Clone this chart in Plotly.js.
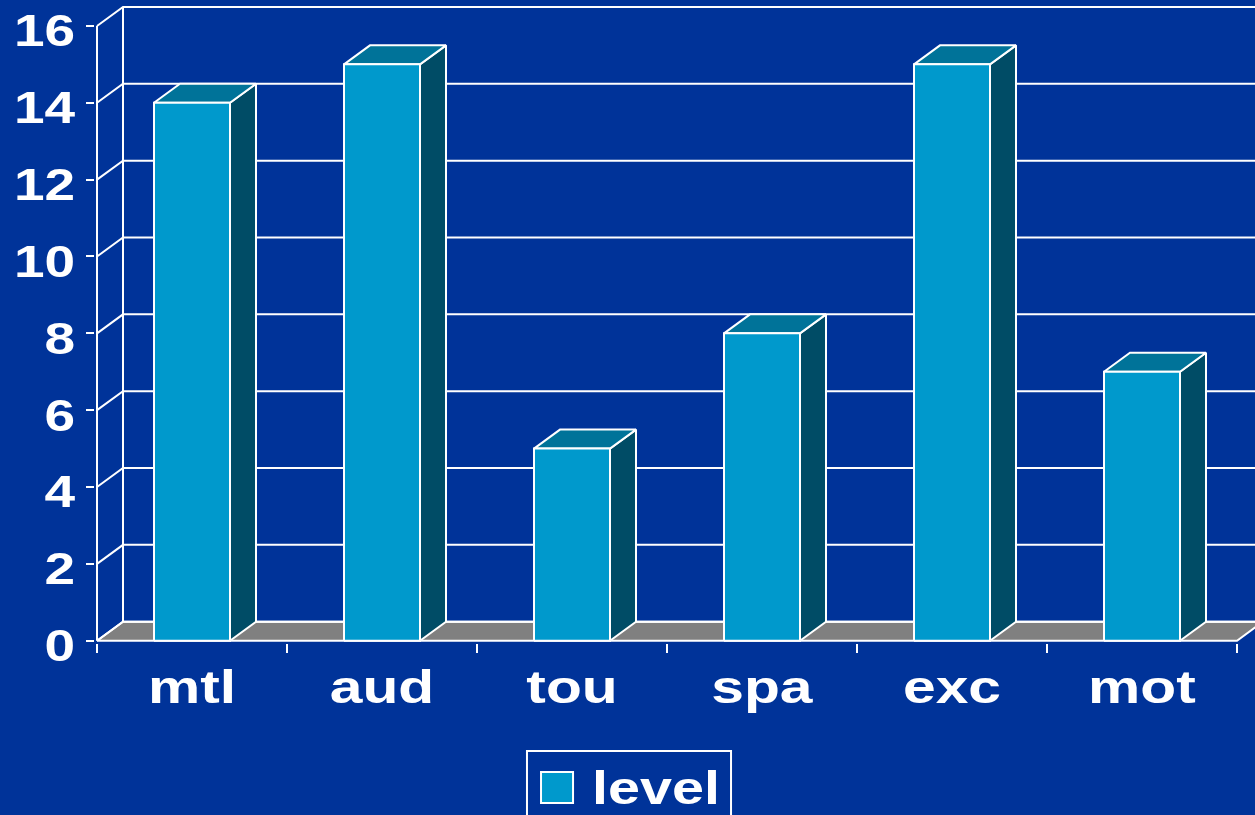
<!DOCTYPE html>
<html>
<head>
<meta charset="utf-8">
<script src="https://cdn.plot.ly/plotly-3.0.1.min.js"></script>
<style>
    html, body { margin: 0; padding: 0; background: #003399; }
    #chart-container { width: 1255px; height: 815px; }
</style>
</head>
<body>
<div id="chart-container"></div>
<script>
/**
 * 3d style column chart, one series ("level") over six categories
 */

let categories = ['mtl', 'aud', 'tou', 'spa', 'exc', 'mot']
let levelValues = [14, 15, 5, 8, 15, 7]
let yTickVals = [0, 2, 4, 6, 8, 10, 12, 14, 16]
let seriesName = 'level'

let chartContainerId = 'chart-container'

let colours = {
    background: '#003399',
    front: '#0099CC',
    side: '#004C66',
    top: '#007399',
    floor: '#808080',
    line: '#FFFFFF'
}

// depth of the fake 3d, in data units (26px across, 19px up)
let depthX = 26 / 190
let depthY = 19 / 38.44
let barHalf = 0.2

let xMin = -0.5
let xMax = categories.length - 0.5
let yTop = yTickVals[yTickVals.length - 1]

// plot area in pixels
let marginL = 95, marginT = 5, marginB = 172
let plotW = 1255 - marginL
let pxPerCat = 190
let xRange = [xMin - 2 / pxPerCat, xMin - 2 / pxPerCat + plotW / pxPerCat]
let yRange = [-0.06, 16.545]

// the source font is a wide (stretched) Arial bold
let textStretch = 1.25

let lineStyle = { color: colours.line, width: 2 }

function polygon(xs, ys, fill) {
    return {
        x: [...xs, xs[0]],
        y: [...ys, ys[0]],
        type: 'scatter',
        mode: 'lines',
        fill: 'toself',
        fillcolor: fill,
        line: lineStyle,
        hoverinfo: 'skip',
        showlegend: false
    }
}

let traces = []

// floor
traces.push(polygon(
    [xMin, xMax, xMax + depthX, xMin + depthX],
    [0, 0, depthY, depthY],
    colours.floor
))

// back wall gridlines + side wall diagonals
let gx = [], gy = []
yTickVals.forEach(v => {
    gx.push(xMin, xMin + depthX, xRange[1], null)
    gy.push(v, v + depthY, v + depthY, null)
})
gx.push(xMin + depthX, xMin + depthX, null, xMin, xMin)
gy.push(depthY, yTop + depthY, null, 0, yTop)
traces.push({
    x: gx, y: gy,
    type: 'scatter', mode: 'lines',
    line: lineStyle,
    hoverinfo: 'skip', showlegend: false
})

// bars: side, top, front
levelValues.forEach((v, i) => {
    let l = i - barHalf, r = i + barHalf
    traces.push(polygon(
        [r, r + depthX, r + depthX, r],
        [0, depthY, v + depthY, v],
        colours.side
    ))
    traces.push(polygon(
        [l, l + depthX, r + depthX, r],
        [v, v + depthY, v + depthY, v],
        colours.top
    ))
    traces.push(polygon(
        [l, r, r, l],
        [0, 0, v, v],
        colours.front
    ))
})

// empty trace so the boundary tick axis is drawn
traces.push({ x: [], y: [], xaxis: 'x2', type: 'scatter', showlegend: false })

function font(size) {
    return {
        family: 'Liberation Sans, Arial, sans-serif',
        size: size,
        weight: 'bold',
        color: colours.line
    }
}

let layout = {
    width: 1255,
    height: 815,
    margin: { t: marginT, b: marginB, l: marginL, r: 0 },
    paper_bgcolor: colours.background,
    plot_bgcolor: colours.background,
    showlegend: false,
    xaxis: {
        range: xRange,
        tickvals: categories.map((c, i) => i),
        ticktext: categories,
        ticks: '',
        showgrid: false,
        zeroline: false,
        showline: false,
        tickfont: font(47),
        ticklabelstandoff: 12,
        fixedrange: true
    },
    xaxis2: {
        overlaying: 'x',
        range: xRange,
        tickvals: categories.map((c, i) => i - 0.5).concat([xMax]),
        ticks: 'outside',
        ticklen: 9,
        tickwidth: 2,
        tickcolor: colours.line,
        showticklabels: false,
        showgrid: false,
        zeroline: false,
        showline: false,
        fixedrange: true
    },
    yaxis: {
        range: yRange,
        tickvals: yTickVals,
        ticks: 'outside',
        ticklen: 8,
        tickwidth: 2,
        tickcolor: colours.line,
        showgrid: false,
        zeroline: false,
        showline: false,
        tickfont: font(44),
        ticklabelstandoff: 2,
        ticklabelshift: 5,
        fixedrange: true
    },
    // legend drawn by hand so the swatch can be big
    shapes: [
        {
            type: 'rect', xref: 'paper', yref: 'paper',
            x0: 0.3724, x1: 0.5483, y0: -0.1693, y1: -0.30,
            line: { color: colours.line, width: 2 }
        },
        {
            type: 'rect', xref: 'paper', yref: 'paper',
            x0: 0.3845, x1: 0.4121, y0: -0.2022, y1: -0.2508,
            fillcolor: colours.front,
            line: { color: colours.line, width: 2 }
        }
    ],
    annotations: [{
        text: seriesName,
        xref: 'paper', yref: 'paper',
        x: 0.4267, y: -0.2273,
        xanchor: 'left', yanchor: 'middle',
        showarrow: false,
        font: font(46)
    }]
}

// widen text around its anchor point
function stretchText(selector, anchor) {
    document.querySelectorAll('#' + chartContainerId + ' ' + selector).forEach(el => {
        let b = el.getBBox()
        let cx = anchor == 'start' ? b.x : anchor == 'end' ? b.x + b.width : b.x + b.width / 2
        let t = el.getAttribute('transform') || ''
        el.setAttribute('transform', t + ` translate(${cx},0) scale(${textStretch},1) translate(${-cx},0)`)
    })
}

Plotly.newPlot(chartContainerId, traces, layout, { staticPlot: true }).then(() => {
    stretchText('.xtick text', 'middle')
    stretchText('.ytick text', 'end')
    stretchText('.annotation-text', 'start')
})
</script>
</body>
</html>
